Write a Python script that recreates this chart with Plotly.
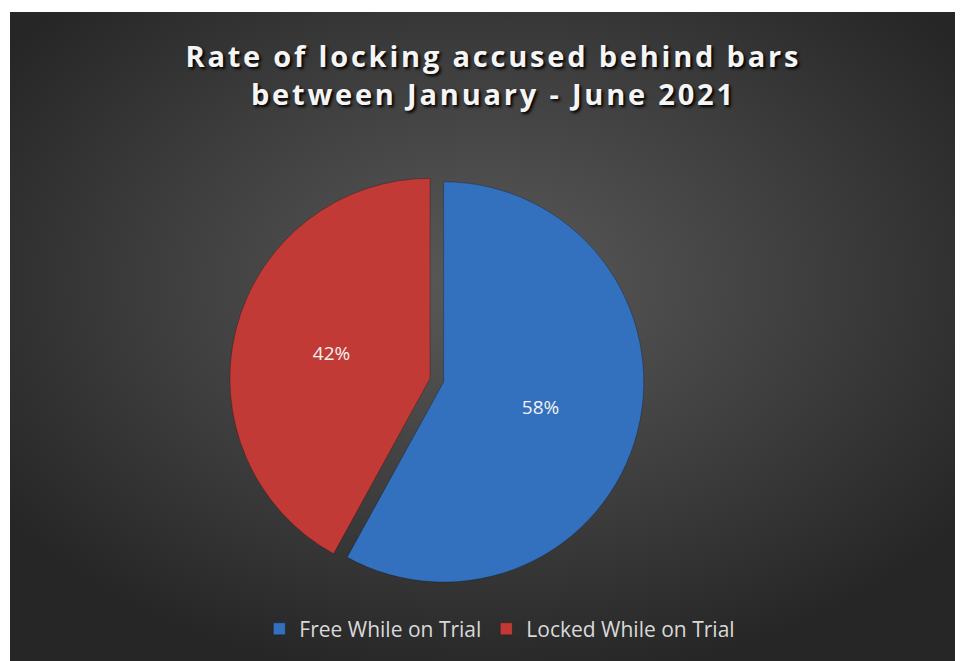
import base64
import plotly.graph_objects as go

labels = ["Free While on Trial", "Locked While on Trial"]
values = [58, 42]
colors = ["#3370bd", "#c23a35"]
title_lines = ["Rate of locking accused behind bars", "between January - June 2021"]

svg = (
    '<svg xmlns="http://www.w3.org/2000/svg" width="953" height="649" viewBox="0 0 953 649" preserveAspectRatio="none">'
    '<defs><radialGradient id="g" cx="50%" cy="42%" r="62%" fx="50%" fy="42%">'
    '<stop offset="0" stop-color="#5a5a5a"/><stop offset="0.55" stop-color="#3e3e3e"/>'
    '<stop offset="1" stop-color="#262626"/></radialGradient></defs>'
    '<rect width="953" height="649" fill="url(#g)"/></svg>'
)
src = "data:image/svg+xml;base64," + base64.b64encode(svg.encode()).decode()

title_text = "<br>".join(
    '<span style="letter-spacing:2.8px">' + t + "</span>" for t in title_lines
)

fig = go.Figure(
    go.Pie(
        labels=labels,
        values=values,
        sort=False,
        direction="clockwise",
        rotation=0,
        pull=[0, 0.07],
        marker=dict(colors=colors, line=dict(color="rgba(0,0,0,0.25)", width=1)),
        textinfo="percent",
        textposition="inside",
        insidetextfont=dict(color="#f2f2f2", size=19, family="Open Sans"),
        domain=dict(x=[0.19, 0.72], y=[0.1, 0.76]),
        hoverinfo="label+percent",
    )
)

fig.update_layout(
    width=963,
    height=661,
    margin=dict(l=2, r=8, t=4, b=8),
    paper_bgcolor="white",
    plot_bgcolor="rgba(0,0,0,0)",
    images=[dict(source=src, xref="paper", yref="paper", x=0, y=1, sizex=1, sizey=1,
                 xanchor="left", yanchor="top", sizing="stretch", layer="below")],
    title=dict(
        text=title_text,
        x=0.504,
        xanchor="center",
        y=0.91,
        yanchor="top",
        font=dict(family="Open Sans", size=29, color="#f5f5f5", weight="bold",
                  shadow="2px 2px 3px #000"),
    ),
    showlegend=True,
    legend=dict(
        orientation="h",
        x=0.514,
        xanchor="center",
        y=0.049,
        yanchor="middle",
        font=dict(family="Open Sans", size=21, color="#d9d9d9"),
        bgcolor="rgba(0,0,0,0)",
        itemwidth=30,
    ),
)

fig.write_html("out.html")
